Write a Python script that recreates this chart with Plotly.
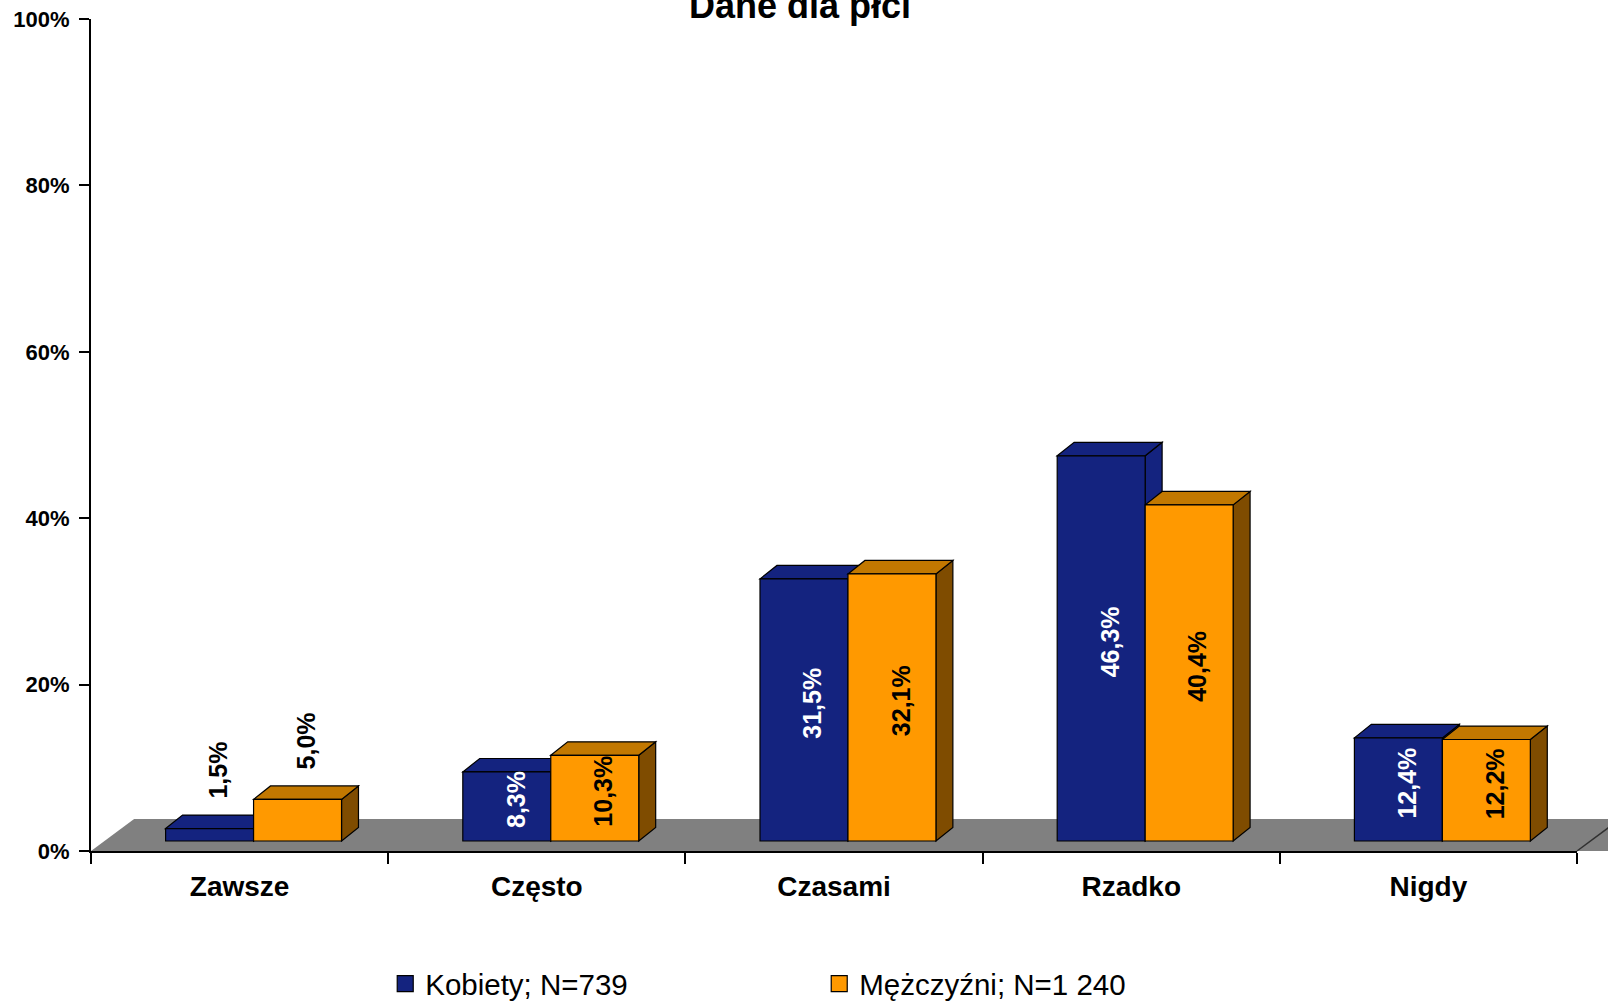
import plotly.graph_objects as go

# --- data -------------------------------------------------------------
categories = ["Zawsze", "Często", "Czasami", "Rzadko", "Nigdy"]
kobiety = [1.5, 8.3, 31.5, 46.3, 12.4]
mezczyzni = [5.0, 10.3, 32.1, 40.4, 12.2]
series_names = ["Kobiety; N=739", "Mężczyźni; N=1 240"]
y_ticks = [0, 20, 40, 60, 80, 100]
y_tick_labels = ["0%", "20%", "40%", "60%", "80%", "100%"]

# --- styling ----------------------------------------------------------
FONT = "Liberation Sans, Arial, sans-serif"
FRONT = ["#14237f", "#ff9900"]
TOP = ["#14237f", "#c27800"]
SIDE = ["#14237f", "#7f4c00"]
LABEL_COL = ["white", "black"]

BAR_W = 0.296      # width of one bar, in category units
SHIFT = 0.047      # pair offset from the category centre
BASE = 1.2         # bars stand inside the floor depth
DX, DY = 0.057, 1.62           # bar depth projection (category units, %)
FLOOR_DX, FLOOR_DY = 0.145, 3.85
INSIDE_MIN = 8     # shorter bars get their label above the box

fig = go.Figure()
shapes = []
annotations = []

# grey floor (paper coordinates so it can run past the axis end)
x_span = len(categories)
fx = FLOOR_DX / x_span
fy = FLOOR_DY / 100
shapes.append(dict(type="path", xref="paper", yref="paper", layer="below",
                   path=f"M 0,0 L 1.03,0 L {1 + fx + 0.03},{fy} L {fx},{fy} Z",
                   fillcolor="#808080", line=dict(width=0)))
shapes.append(dict(type="line", xref="paper", yref="paper", layer="below",
                   x0=1, y0=0, x1=1 + fx, y1=fy,
                   line=dict(color="#303030", width=1.5)))

series = [kobiety, mezczyzni]
for j, (name, vals) in enumerate(zip(series_names, series)):
    fig.add_trace(go.Bar(
        x=categories, y=vals, base=BASE, name=name, showlegend=False,
        width=BAR_W, offset=SHIFT - BAR_W + j * BAR_W,
        marker=dict(color=FRONT[j], line=dict(color="black", width=1.2)),
        hoverinfo="skip",
    ))

# legend keys: square swatches with a black outline
for j, name in enumerate(series_names):
    fig.add_trace(go.Scatter(
        x=[None], y=[None], mode="markers", name=name,
        marker=dict(symbol="square", size=16, color=FRONT[j],
                    line=dict(color="black", width=1.2)),
        hoverinfo="skip",
    ))

# top and side faces, drawn per category so nearer faces overlap correctly
for i in range(len(categories)):
    for j, vals in enumerate(series):
        v = vals[i]
        xl = i + SHIFT - BAR_W + j * BAR_W
        xr = xl + BAR_W
        yb, yt = BASE, BASE + v
        shapes.append(dict(
            type="path", xref="x", yref="y", layer="below",
            path=f"M {xr},{yb} L {xr + DX},{yb + DY} L {xr + DX},{yt + DY} L {xr},{yt} Z",
            fillcolor=SIDE[j], line=dict(color="black", width=1.2)))
        shapes.append(dict(
            type="path", xref="x", yref="y", layer="below",
            path=f"M {xl},{yt} L {xl + DX},{yt + DY} L {xr + DX},{yt + DY} L {xr},{yt} Z",
            fillcolor=TOP[j], line=dict(color="black", width=1.2)))

        label = "<b>" + f"{v:.1f}".replace(".", ",") + "%</b>"
        xc = (xl + xr) / 2 + DX / 2
        if v >= INSIDE_MIN:
            annotations.append(dict(
                x=xc, y=BASE + v / 2 + DY / 2, xref="x", yref="y",
                text=label, textangle=-90, showarrow=False,
                font=dict(family=FONT, size=25, color=LABEL_COL[j])))
        else:
            annotations.append(dict(
                x=xc, y=BASE + v + DY, xref="x", yref="y", yanchor="bottom",
                yshift=14, text=label, textangle=-90, showarrow=False,
                font=dict(family=FONT, size=25, color="black")))

fig.update_layout(
    width=1608, height=1001,
    margin=dict(l=91, r=31, t=19, b=150, autoexpand=False),
    paper_bgcolor="white", plot_bgcolor="white",
    barmode="overlay",
    font=dict(family=FONT, color="black"),
    title=dict(text="<b>Dane dla płci</b>", xref="container", yref="container",
               x=0.4975, xanchor="center", y=0.982, yanchor="bottom",
               font=dict(family=FONT, size=36, color="black")),
    shapes=shapes,
    annotations=annotations,
    showlegend=True,
    legend=dict(orientation="h", x=0.198, xanchor="left",
                yref="container", y=0.017, yanchor="middle",
                font=dict(family=FONT, size=29.5, color="black"),
                itemwidth=30, entrywidth=389, entrywidthmode="pixels",
                bgcolor="rgba(0,0,0,0)", traceorder="normal"),
    xaxis=dict(type="category", categoryorder="array", categoryarray=categories,
               range=[-0.5, len(categories) - 0.5], tickson="boundaries",
               tickvals=categories, ticktext=[f"<b>{c}</b>" for c in categories],
               showline=True, linecolor="black", linewidth=2,
               ticks="outside", ticklen=11, tickwidth=2, tickcolor="black",
               ticklabelstandoff=9,
               tickfont=dict(family=FONT, size=28, color="black"),
               showgrid=False, zeroline=False, fixedrange=True),
    yaxis=dict(range=[0, 100], tickvals=y_ticks,
               ticktext=[f"<b>{t}</b>" for t in y_tick_labels],
               showline=True, linecolor="black", linewidth=2,
               ticks="outside", ticklen=10, tickwidth=2, tickcolor="black",
               ticklabelstandoff=5,
               tickfont=dict(family=FONT, size=22, color="black"),
               showgrid=False, zeroline=False, fixedrange=True),
)

fig.write_html("out.html")
